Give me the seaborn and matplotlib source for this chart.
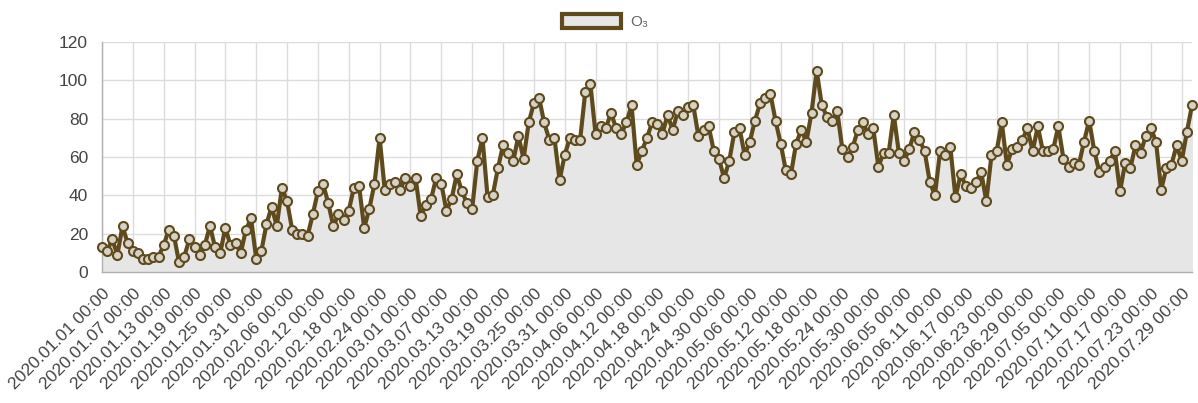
import numpy as np
import pandas as pd
import matplotlib
matplotlib.use('Agg')
import matplotlib.pyplot as plt
import seaborn as sns
from matplotlib.patches import Patch

# daily O3 values, 2020.01.01 .. 2020.07.31
o3_values = [
    13, 11, 17, 9, 24, 15, 11, 10, 7, 7, 8, 8,
    14, 22, 19, 5, 8, 17, 13, 9, 14, 24, 13, 10,
    23, 14, 15, 10, 22, 28, 7, 11, 25, 34, 24, 44,
    37, 22, 20, 20, 19, 30, 42, 46, 36, 24, 30, 27,
    32, 44, 45, 23, 33, 46, 70, 43, 46, 47, 43, 49,
    45, 49, 29, 35, 38, 49, 46, 32, 38, 51, 42, 36,
    33, 58, 70, 39, 40, 54, 66, 62, 58, 71, 59, 78,
    88, 91, 78, 69, 70, 48, 61, 70, 69, 69, 94, 98,
    72, 76, 75, 83, 75, 72, 78, 87, 56, 63, 70, 78,
    77, 72, 82, 74, 84, 82, 86, 87, 71, 74, 76, 63,
    59, 49, 58, 73, 75, 61, 68, 79, 88, 91, 93, 79,
    67, 53, 51, 67, 74, 68, 83, 105, 87, 81, 79, 84,
    64, 60, 65, 74, 78, 72, 75, 55, 62, 62, 82, 62,
    58, 64, 73, 69, 63, 47, 40, 63, 61, 65, 39, 51,
    45, 44, 47, 52, 37, 61, 63, 78, 56, 64, 65, 69,
    75, 63, 76, 63, 63, 64, 76, 59, 55, 57, 56, 68,
    79, 63, 52, 55, 58, 63, 42, 57, 54, 66, 62, 71,
    75, 68, 43, 54, 56, 66, 58, 73, 87,
]
dates = pd.date_range('2020-01-01', periods=len(o3_values), freq='D')
date_labels = [d.strftime('%Y.%m.%d %H:%M') for d in dates]
y_ticks = [0, 20, 40, 60, 80, 100, 120]

LINE = '#5f4a1c'
FILL = '#e6e6e6'
GRID = '#dcdcdc'
TEXT = '#444444'

sns.set_style('white')
plt.rcParams['font.family'] = ['Liberation Sans', 'DejaVu Sans']

df = pd.DataFrame({'idx': np.arange(len(o3_values)), 'O3': o3_values})

fig = plt.figure(figsize=(11.98, 4.03), dpi=100)
ax = fig.add_axes([0.0851, 0.325, 0.9099, 0.571])

ax.fill_between(df['idx'], 0, df['O3'], color=FILL, zorder=1)
sns.lineplot(data=df, x='idx', y='O3', ax=ax, color=LINE, linewidth=3,
             marker='o', markersize=6.5, markerfacecolor='#d6d2c8',
             markeredgecolor=LINE, markeredgewidth=1.5, zorder=3,
             clip_on=False)

tick_pos = list(range(0, len(o3_values), 6))
ax.set_xticks(tick_pos)
ax.set_xticklabels([date_labels[i] for i in tick_pos], rotation=45,
                   ha='right', rotation_mode='anchor')
ax.set_yticks(y_ticks)
ax.set_xlim(0, len(o3_values) - 1)
ax.set_ylim(0, 120)
ax.set_xlabel('')
ax.set_ylabel('')

ax.grid(True, color=GRID, linewidth=1, zorder=0)
ax.set_axisbelow(True)
ax.tick_params(axis='both', colors=GRID, labelcolor=TEXT, labelsize=12.5,
               length=7, width=1, pad=3)
for side in ['top', 'right']:
    ax.spines[side].set_visible(False)
for side in ['left', 'bottom']:
    ax.spines[side].set_color('#b0b0b0')
    ax.spines[side].set_linewidth(1)

handle = Patch(facecolor=FILL, edgecolor=LINE, linewidth=3)
fig.legend(handles=[handle], labels=['O₃'], loc='upper center',
           bbox_to_anchor=(0.505, 1.0), frameon=False, fontsize=11,
           handlelength=3.9, handleheight=1.1, labelcolor='#666666',
           handletextpad=0.6)

plt.savefig('out.png', dpi=100, facecolor='white')
plt.close()
